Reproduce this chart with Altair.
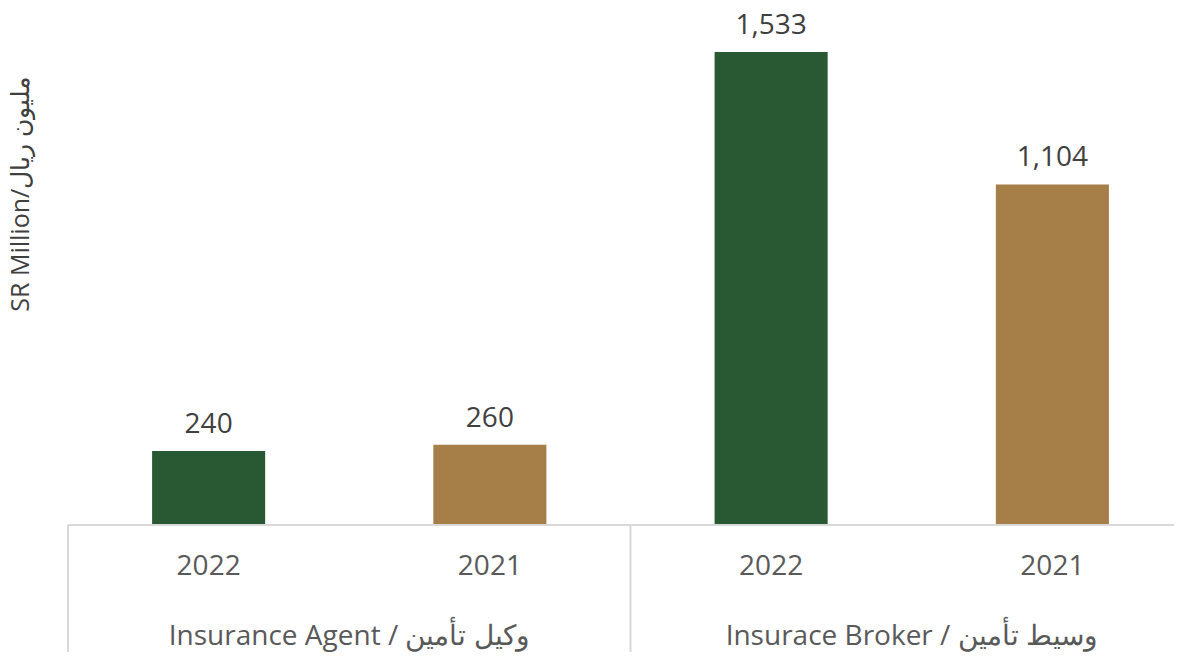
import altair as alt
import pandas as pd

groups = ["Insurance Agent / وكيل تأمين", "Insurace Broker / وسيط تأمين"]
years = ["2022", "2021"]
agent_values = [240, 260]
broker_values = [1533, 1104]
colors = ["#295932", "#A57F47"]
y_title = "SR Million/مليون ريال"

rows = []
for g, vals in zip(groups, [agent_values, broker_values]):
    for y, v in zip(years, vals):
        rows.append({"group": g, "year": y, "value": v})
df = pd.DataFrame(rows)
gdf = pd.DataFrame({"group": groups})

FONT = "Open Sans"

x_enc = alt.X("group:N", sort=groups,
              scale=alt.Scale(range=[0, 1125], paddingInner=0, paddingOuter=0),
              axis=None)
xo_enc = alt.XOffset("year:N", sort=years,
                     scale=alt.Scale(paddingInner=0.598, paddingOuter=0.299))

base = alt.Chart(df)

bars = base.mark_bar().encode(
    x=x_enc,
    xOffset=xo_enc,
    y=alt.Y("value:Q", scale=alt.Scale(domain=[0, 1676], nice=False),
            axis=alt.Axis(title=y_title, labels=False, ticks=False, domain=False, grid=False,
                          titleX=-48, titleY=186, titleAngle=270, titleAlign="center",
                          titleBaseline="middle", titleFontSize=25, titleColor="#404040",
                          titleFont=FONT, titleFontWeight="normal")),
    color=alt.Color("year:N", sort=years, scale=alt.Scale(domain=years, range=colors), legend=None),
)

values = base.mark_text(font=FONT, fontSize=28, color="#404040", baseline="middle", dy=-26).encode(
    x=x_enc,
    xOffset=xo_enc,
    y=alt.Y("value:Q"),
    text=alt.Text("value:Q", format=","),
)

year_labels = base.mark_text(font=FONT, fontSize=28, color="#595959", baseline="middle").encode(
    x=x_enc,
    xOffset=xo_enc,
    y=alt.value(559),
    text="year:N",
)

baseline = alt.Chart(gdf).mark_rule(color="#d9d9d9", strokeWidth=2).encode(
    x=alt.value(0), x2=alt.value(1125), y=alt.value(517)
)

separators = alt.Chart(gdf).mark_rule(color="#d9d9d9", strokeWidth=2).encode(
    x=alt.X("group:N", sort=groups, bandPosition=0),
    y=alt.value(517), y2=alt.value(644),
)

group_labels = alt.Chart(gdf).mark_text(font=FONT, fontSize=28, color="#595959", baseline="middle").encode(
    x=alt.X("group:N", sort=groups, bandPosition=0.5),
    y=alt.value(629),
    text="group:N",
)

chart = alt.layer(bars, values, year_labels, baseline, separators, group_labels).properties(
    width=1106, height=517,
    autosize=alt.AutoSizeParams(type="none"),
    padding={"left": 60, "top": 0, "right": 0, "bottom": 127},
).configure_view(stroke=None)

chart.save("out.html", embed_options={"renderer": "svg", "actions": False})
